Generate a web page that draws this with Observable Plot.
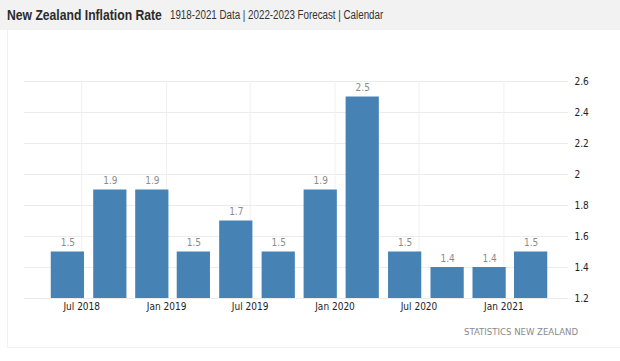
<!DOCTYPE html>
<html>
<head>
<meta charset="utf-8">
<script src="https://cdn.jsdelivr.net/npm/d3@7"></script>
<script src="https://cdn.jsdelivr.net/npm/@observablehq/plot@0.6"></script>
<style>
  html, body { margin: 0; padding: 0; background: #fff; width: 620px; height: 361px; overflow: hidden; }
  #wrap { position: relative; width: 620px; height: 361px; }
  #header { position: absolute; left: 0; top: 0; width: 620px; height: 30px; background: #f2f2f2; }
  #title { position: absolute; left: 7px; top: 6px; font-family: "Liberation Sans", Arial, sans-serif; font-weight: bold; font-size: 15.5px; color: #2b2b2b; white-space: nowrap; transform: scaleX(0.785); transform-origin: 0 0; }
  #subtitle { position: absolute; left: 170px; top: 8px; font-family: "Liberation Sans", Arial, sans-serif; font-size: 12.3px; color: #333; white-space: nowrap; transform: scaleX(0.795); transform-origin: 0 0; }
  #box { position: absolute; left: 7px; top: 30px; width: 640px; height: 317px; border-left: 1px solid #f1f1f1; border-bottom: 1px solid #f1f1f1; }
  #chart { position: absolute; left: 0; top: 30px; }
  #caption { position: absolute; right: 42px; top: 326px; font-family: "DejaVu Sans Condensed", "DejaVu Sans", sans-serif; font-size: 9.5px; color: #8a8a8a; white-space: nowrap; }
</style>
</head>
<body>
<div id="wrap">
  <div id="header"></div>
  <div id="title">New Zealand Inflation Rate</div>
  <div id="subtitle">1918-2021 Data | 2022-2023 Forecast | Calendar</div>
  <div id="box"></div>
  <div id="chart"></div>
  <div id="caption">STATISTICS NEW ZEALAND</div>
</div>
<script>
// Quarterly observations (date of bar, inflation rate %)
const quarters = ["2018-06-01","2018-09-01","2018-12-01","2019-03-01","2019-06-01","2019-09-01",
                  "2019-12-01","2020-03-01","2020-06-01","2020-09-01","2020-12-01","2021-03-01"];
const rates = [1.5, 1.9, 1.9, 1.5, 1.7, 1.5, 1.9, 2.5, 1.5, 1.4, 1.4, 1.5];
const xTickDates = ["2018-07-01","2019-01-01","2019-07-01","2020-01-01","2020-07-01","2021-01-01"];
const yTicks = [1.2, 1.4, 1.6, 1.8, 2, 2.2, 2.4, 2.6];

const data = quarters.map((q, i) => ({date: new Date(q + "T00:00:00Z"), value: rates[i]}));
const xTicks = xTickDates.map(d => new Date(d + "T00:00:00Z"));
const DAY = 864e5;
const half = 36 * DAY;

const chart = Plot.plot({
  width: 620,
  height: 331,
  marginLeft: 24,
  marginRight: 52,
  marginTop: 51,
  marginBottom: 63,
  style: {fontFamily: "'DejaVu Sans Condensed', 'DejaVu Sans', sans-serif", fontSize: "10px", color: "#1e1e1e", background: "transparent", overflow: "visible"},
  x: {type: "utc", domain: [new Date("2018-02-27T00:00:00Z"), new Date("2021-05-21T00:00:00Z")]},
  y: {domain: [yTicks[0], yTicks[yTicks.length - 1]]},
  marks: [
    Plot.gridY(yTicks, {stroke: "#ececec", strokeOpacity: 1}),
    Plot.gridX(xTicks, {stroke: "#f0f0f0", strokeOpacity: 1}),
    Plot.rectY(data, {
      x1: d => new Date(+d.date - half),
      x2: d => new Date(+d.date + half),
      y1: yTicks[0],
      y2: "value",
      fill: "#4682b4"
    }),
    Plot.text(data, {x: "date", y: "value", text: d => String(d.value), dy: -9, fill: "#8c8c8c", fontSize: 10}),
    Plot.axisY(yTicks, {anchor: "right", tickSize: 0, tickPadding: 6, textAnchor: "start", tickFormat: d => String(d), label: null}),
    Plot.axisX(xTicks, {anchor: "bottom", tickSize: 0, tickPadding: 4, tickFormat: d3.utcFormat("%b %Y"), label: null})
  ]
});
document.getElementById("chart").appendChild(chart);
</script>
</body>
</html>
